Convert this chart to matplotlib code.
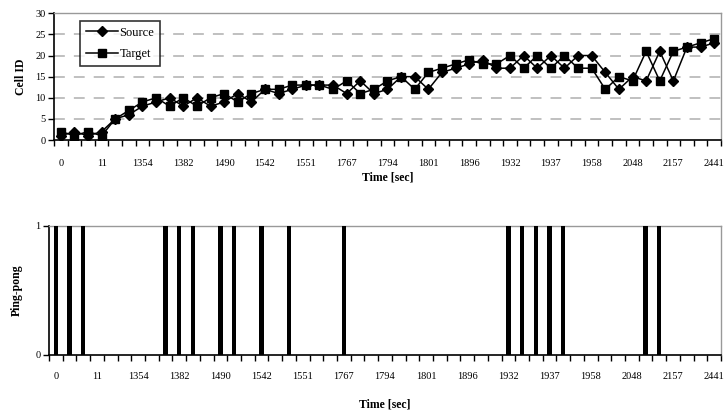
import matplotlib
matplotlib.use("Agg")
import matplotlib.pyplot as plt
import numpy as np

# ---- data ----
tick_labels = ["0", "11", "1354", "1382", "1490", "1542", "1551", "1767", "1794",
               "1801", "1896", "1932", "1937", "1958", "2048", "2157", "2441"]
label_step = 3
n_cat = 49

source = [1, 2, 1, 2, 5, 6, 8, 9, 10, 8, 10, 8, 9, 11, 9, 12,
          11, 12, 13, 13, 13, 11, 14, 11, 12, 15, 15, 12, 16, 17, 18, 19,
          17, 17, 20, 17, 20, 17, 20, 20, 16, 12, 15, 14, 21, 14, 22, 22, 23]
target = [2, 1, 2, 1, 5, 7, 9, 10, 8, 10, 8, 10, 11, 9, 11, 12,
          12, 13, 13, 13, 12, 14, 11, 12, 14, 15, 12, 16, 17, 18, 19, 18,
          18, 20, 17, 20, 17, 20, 17, 17, 12, 15, 14, 21, 14, 21, 22, 23, 24]
pingpong_idx = [0, 1, 2, 8, 9, 10, 12, 13, 15, 17, 21, 33, 34, 35, 36, 37, 43, 44]

x = np.arange(n_cat)
pingpong = np.zeros(n_cat)
pingpong[pingpong_idx] = 1

plt.rcParams['font.family'] = ['Liberation Serif', 'DejaVu Serif']

fig = plt.figure(figsize=(7.26, 4.12), dpi=100)
W, H = 726, 412

def axes_px(l, r, t, b):
    return fig.add_axes([l / W, 1 - b / H, (r - l) / W, (b - t) / H])

tick_fs = 7.5
lab_fs = 8.5

def style_xaxis(ax, pad):
    ax.set_xlim(-0.5, n_cat - 0.5)
    ax.set_xticks(np.arange(-0.5, n_cat, 1.0))
    ax.set_xticklabels([])
    ax.set_xticks(x[::label_step], minor=True)
    ax.set_xticklabels(tick_labels, minor=True, fontsize=tick_fs)
    ax.tick_params(axis='x', which='major', direction='out', length=4, width=1, color='black')
    ax.tick_params(axis='x', which='minor', length=0, pad=pad)
    for s in ['top', 'right']:
        ax.spines[s].set_color('#999999')
        ax.spines[s].set_linewidth(1)
    for s in ['left', 'bottom']:
        ax.spines[s].set_color('black')
        ax.spines[s].set_linewidth(1.2)

# ---- top chart ----
ax1 = axes_px(54, 721, 13.3, 140)
ax1.set_ylim(0, 30)
ax1.set_yticks(np.arange(0, 31, 5))
ax1.tick_params(axis='y', direction='out', length=4, width=1, labelsize=tick_fs, pad=2)
for yv in range(5, 30, 5):
    ax1.axhline(yv, color='#bbbbbb', lw=1.3, dashes=(6, 5), zorder=0)
ax1.plot(x, source, color='black', lw=1.1, marker='D', markersize=5, label='Source', zorder=3)
ax1.plot(x, target, color='black', lw=1.1, marker='s', markersize=5.5, label='Target', zorder=3)
style_xaxis(ax1, pad=13.5)
ax1.set_ylabel('Cell ID', fontsize=lab_fs, fontweight='bold', labelpad=6)
ax1.set_xlabel('Time [sec]', fontsize=lab_fs, fontweight='bold', labelpad=3)
leg = ax1.legend(loc='upper left', bbox_to_anchor=(0.039, 0.94), fontsize=9,
                 frameon=True, fancybox=False, edgecolor='black', handlelength=2.6,
                 borderpad=0.45, labelspacing=0.75, handletextpad=0.1, borderaxespad=0)
leg.get_frame().set_linewidth(1.2)

# ---- bottom chart ----
ax2 = axes_px(49, 721, 225.7, 355)
ax2.bar(x, pingpong, width=0.32, color='black', zorder=3)
ax2.set_ylim(0, 1)
ax2.set_yticks([0, 1])
ax2.tick_params(axis='y', direction='out', length=4, width=1, labelsize=tick_fs, pad=2)
style_xaxis(ax2, pad=12.5)
ax2.set_ylabel('Ping-pong', fontsize=lab_fs, fontweight='bold', labelpad=9)
ax2.set_xlabel('Time [sec]', fontsize=lab_fs, fontweight='bold', labelpad=12)

fig.savefig('out.png', dpi=100)
